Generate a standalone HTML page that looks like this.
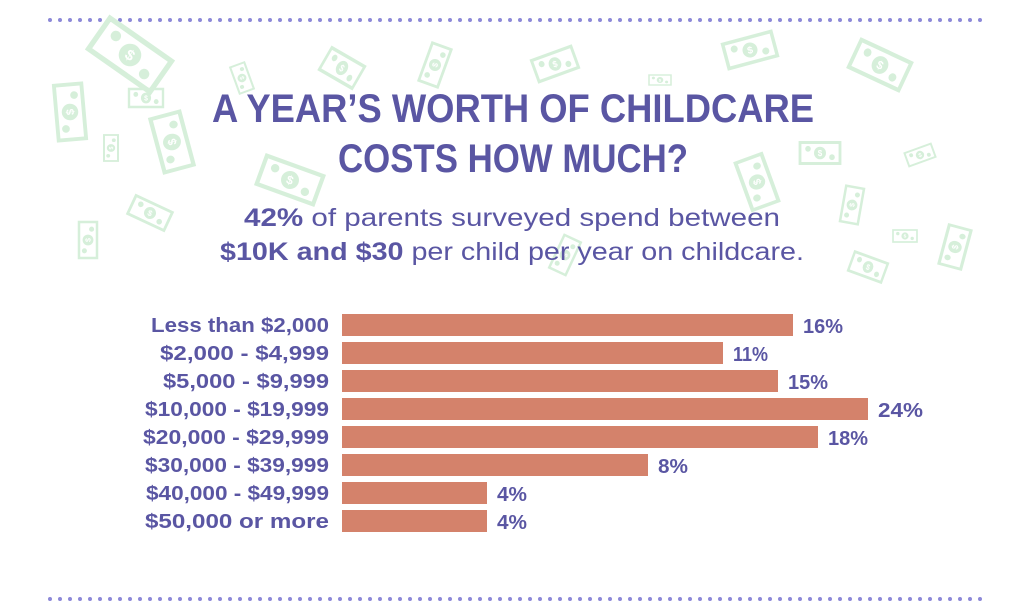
<!DOCTYPE html>
<html><head><meta charset="utf-8"><style>
html,body{margin:0;padding:0;background:#fff;}
svg{display:block}
text{font-family:"Liberation Sans",sans-serif;fill:#5a56a3}
</style></head><body>
<svg width="1024" height="616" viewBox="0 0 1024 616">
<defs>
<g id="bill">
<rect x="-50" y="-25" width="100" height="50" fill="none" stroke="#d6efda" stroke-width="7"/>
<circle cx="0" cy="0" r="15" fill="#d6efda"/>
<circle cx="-30" cy="-10" r="7" fill="#d6efda"/>
<circle cx="30" cy="10" r="7" fill="#d6efda"/>
<text x="0" y="7" text-anchor="middle" font-size="20" font-weight="bold" style="fill:#fff">$</text>
</g>
</defs>
<line x1="50" y1="20" x2="985" y2="20" stroke="#8c88d8" stroke-width="4" stroke-linecap="round" stroke-dasharray="0 10"/>
<line x1="50" y1="599" x2="985" y2="599" stroke="#8c88d8" stroke-width="4" stroke-linecap="round" stroke-dasharray="0 10"/>
<g>
<use href="#bill" transform="translate(130,55) rotate(35) scale(0.75)"/>
<use href="#bill" transform="translate(146,98) scale(0.34,0.36)"/>
<use href="#bill" transform="translate(70,112) rotate(-95) scale(0.55,0.55)"/>
<use href="#bill" transform="translate(172,142) rotate(-105) scale(0.55,0.6)"/>
<use href="#bill" transform="translate(111,148) rotate(-90) scale(0.26,0.28)"/>
<use href="#bill" transform="translate(242,78) rotate(-110) scale(0.28,0.3)"/>
<use href="#bill" transform="translate(342,68) rotate(30) scale(0.38,0.5)"/>
<use href="#bill" transform="translate(435,65) rotate(-70) scale(0.4,0.4)"/>
<use href="#bill" transform="translate(290,180) rotate(20) scale(0.6,0.6)"/>
<use href="#bill" transform="translate(150,213) rotate(25) scale(0.4,0.4)"/>
<use href="#bill" transform="translate(88,240) rotate(-90) scale(0.36,0.36)"/>
<use href="#bill" transform="translate(555,64) rotate(-20) scale(0.42,0.45)"/>
<use href="#bill" transform="translate(660,80) scale(0.22,0.2)"/>
<use href="#bill" transform="translate(750,50) rotate(-15) scale(0.5,0.5)"/>
<use href="#bill" transform="translate(880,65) rotate(25) scale(0.55,0.6)"/>
<use href="#bill" transform="translate(757,182) rotate(-110) scale(0.5,0.55)"/>
<use href="#bill" transform="translate(820,153) scale(0.4,0.42)"/>
<use href="#bill" transform="translate(920,155) rotate(-20) scale(0.28,0.28)"/>
<use href="#bill" transform="translate(852,205) rotate(-80) scale(0.36,0.36)"/>
<use href="#bill" transform="translate(905,236) scale(0.24,0.24)"/>
<use href="#bill" transform="translate(955,247) rotate(-75) scale(0.4,0.45)"/>
<use href="#bill" transform="translate(868,267) rotate(20) scale(0.35,0.4)"/>
<use href="#bill" transform="translate(565,255) rotate(-65) scale(0.36,0.36)"/>
</g>
<text x="513" y="122" text-anchor="middle" font-size="40" font-weight="bold" textLength="602" lengthAdjust="spacingAndGlyphs">A YEAR’S WORTH OF CHILDCARE</text>
<text x="513" y="172" text-anchor="middle" font-size="40" font-weight="bold" textLength="350" lengthAdjust="spacingAndGlyphs">COSTS HOW MUCH?</text>
<text x="512" y="226" text-anchor="middle" font-size="25" textLength="536" lengthAdjust="spacingAndGlyphs"><tspan font-weight="bold">42%</tspan> of parents surveyed spend between</text>
<text x="512" y="260" text-anchor="middle" font-size="25" textLength="584" lengthAdjust="spacingAndGlyphs"><tspan font-weight="bold">$10K and $30</tspan> per child per year on childcare.</text>
<g fill="#d4826b">
<rect x="342" y="314" width="451" height="22"/>
<rect x="342" y="342" width="381" height="22"/>
<rect x="342" y="370" width="436" height="22"/>
<rect x="342" y="398" width="526" height="22"/>
<rect x="342" y="426" width="476" height="22"/>
<rect x="342" y="454" width="306" height="22"/>
<rect x="342" y="482" width="145" height="22"/>
<rect x="342" y="510" width="145" height="22"/>
</g>
<g font-size="20" font-weight="bold" text-anchor="end">
<text x="329" y="332" textLength="178" lengthAdjust="spacingAndGlyphs">Less than $2,000</text>
<text x="329" y="360" textLength="169" lengthAdjust="spacingAndGlyphs">$2,000 - $4,999</text>
<text x="329" y="388" textLength="166" lengthAdjust="spacingAndGlyphs">$5,000 - $9,999</text>
<text x="329" y="416" textLength="184" lengthAdjust="spacingAndGlyphs">$10,000 - $19,999</text>
<text x="329" y="444" textLength="186" lengthAdjust="spacingAndGlyphs">$20,000 - $29,999</text>
<text x="329" y="472" textLength="184" lengthAdjust="spacingAndGlyphs">$30,000 - $39,999</text>
<text x="329" y="500" textLength="183" lengthAdjust="spacingAndGlyphs">$40,000 - $49,999</text>
<text x="329" y="528" textLength="184" lengthAdjust="spacingAndGlyphs">$50,000 or more</text>
</g>
<g font-size="20" font-weight="bold">
<text x="803" y="333" textLength="40" lengthAdjust="spacingAndGlyphs">16%</text>
<text x="733" y="361" textLength="35" lengthAdjust="spacingAndGlyphs">11%</text>
<text x="788" y="389" textLength="40" lengthAdjust="spacingAndGlyphs">15%</text>
<text x="878" y="417" textLength="45" lengthAdjust="spacingAndGlyphs">24%</text>
<text x="828" y="445" textLength="40" lengthAdjust="spacingAndGlyphs">18%</text>
<text x="658" y="473" textLength="30" lengthAdjust="spacingAndGlyphs">8%</text>
<text x="497" y="501" textLength="30" lengthAdjust="spacingAndGlyphs">4%</text>
<text x="497" y="529" textLength="30" lengthAdjust="spacingAndGlyphs">4%</text>
</g>
</svg>
</body></html>
